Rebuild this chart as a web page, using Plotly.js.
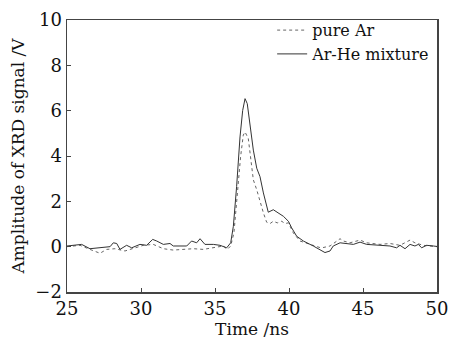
<!DOCTYPE html>
<html>
<head>
<meta charset="utf-8">
<script src="https://cdn.plot.ly/plotly-3.0.1.min.js"></script>
<style>html,body{margin:0;padding:0;background:#fff;}#chart{width:450px;height:340px;}</style>
</head>
<body>
<div id="chart"></div>
<script>
// Series names
const seriesNames = ["pure Ar", "Ar-He mixture"];

// pure Ar (dotted)
const arTime = [25.00, 25.88, 26.55, 27.23, 27.68, 28.24, 28.92, 29.48, 30.16, 30.83, 31.51, 32.18, 33.09, 33.54, 34.21, 34.89, 35.56, 35.83, 36.06, 36.28, 36.51, 36.73, 36.91, 37.03, 37.25, 37.41, 37.59, 37.82, 38.04, 38.27, 38.49, 38.72, 38.94, 39.21, 39.51, 39.73, 39.96, 40.29, 40.74, 41.42, 42.09, 42.30, 42.77, 43.45, 43.67, 44.12, 44.80, 45.25, 46.15, 46.82, 47.50, 48.18, 48.51, 49.07, 49.75, 50.00];
const arSignal = [0.00, 0.06, -0.12, -0.29, -0.12, -0.09, -0.19, -0.09, 0.06, 0.10, -0.09, -0.15, -0.09, -0.09, -0.12, -0.05, 0.03, -0.12, 0.03, 0.61, 2.37, 3.97, 4.92, 5.06, 4.77, 3.82, 2.95, 2.51, 2.00, 1.49, 1.08, 1.02, 1.12, 1.05, 1.12, 1.02, 1.05, 0.61, 0.25, 0.10, -0.04, -0.04, 0.03, 0.35, 0.25, 0.17, 0.29, 0.17, 0.10, 0.14, 0.06, 0.29, 0.17, 0.06, 0.00, 0.00];

// Ar-He mixture (solid)
const mixTime = [25.00, 25.99, 26.55, 27.23, 27.91, 28.13, 28.36, 28.58, 29.03, 29.37, 29.93, 30.38, 30.79, 31.06, 31.51, 31.96, 32.18, 33.09, 33.42, 33.76, 33.99, 34.32, 34.89, 35.34, 35.79, 36.06, 36.24, 36.46, 36.69, 36.87, 37.03, 37.18, 37.36, 37.59, 37.82, 38.04, 38.27, 38.49, 38.60, 38.94, 39.28, 39.62, 39.96, 40.18, 40.52, 40.97, 41.64, 42.09, 42.43, 42.77, 42.99, 43.45, 44.35, 44.80, 45.25, 46.15, 46.82, 47.27, 47.50, 47.84, 48.18, 48.51, 48.74, 48.96, 49.30, 49.75, 50.00];
const mixSignal = [0.03, 0.10, -0.09, -0.05, 0.00, 0.17, 0.14, -0.12, 0.06, -0.05, 0.10, 0.06, 0.32, 0.25, 0.10, 0.14, 0.03, 0.03, 0.25, 0.17, 0.35, 0.10, 0.10, 0.06, -0.05, 0.17, 0.90, 2.65, 4.84, 6.01, 6.53, 6.31, 5.43, 4.26, 3.46, 3.09, 2.37, 1.71, 1.52, 1.63, 1.49, 1.34, 1.12, 0.83, 0.46, 0.25, 0.03, -0.12, -0.26, -0.19, 0.03, 0.17, 0.10, 0.20, 0.10, 0.06, 0.03, -0.05, 0.06, -0.09, 0.10, 0.03, 0.10, -0.05, 0.06, 0.03, 0.01];

// Axis ticks
const xTicks = [25, 30, 35, 40, 45, 50];
const yTicks = [-2, 0, 2, 4, 6, 8, 10];
const yTickText = ["\u22122", "0", "2", "4", "6", "8", "10"];

const font = "DejaVu Serif, serif";
const ink = "#111";

const traces = [
  {x: arTime, y: arSignal, name: seriesNames[0], mode: "lines", type: "scatter",
   line: {color: "#666", width: 1, dash: "dot"}},
  {x: mixTime, y: mixSignal, name: seriesNames[1], mode: "lines", type: "scatter",
   line: {color: "#333", width: 1}}
];

const layout = {
  width: 450, height: 340,
  margin: {l: 67, r: 13, t: 20, b: 48},
  paper_bgcolor: "#fff", plot_bgcolor: "#fff",
  font: {family: font, color: ink, size: 17},
  showlegend: true,
  legend: {x: 0.995, y: 1.025, xanchor: "right", yanchor: "top",
           bgcolor: "rgba(0,0,0,0)", font: {family: font, size: 16, color: ink},
           tracegroupgap: 0, itemwidth: 30},
  xaxis: {range: [25, 50], tickvals: xTicks, ticktext: xTicks.map(String),
          ticks: "inside", ticklen: 4, tickcolor: "#444", showgrid: false, zeroline: false,
          showline: true, linecolor: "#444", linewidth: 1.5, mirror: true,
          tickfont: {family: font, size: 18, color: ink},
          title: {text: "Time /ns", font: {family: font, size: 17, color: ink}, standoff: 2}},
  yaxis: {range: [-2, 10], tickvals: yTicks, ticktext: yTickText,
          ticks: "inside", ticklen: 4, tickcolor: "#444", showgrid: false, zeroline: false,
          showline: true, linecolor: "#444", linewidth: 1.5, mirror: true,
          tickfont: {family: font, size: 18, color: ink},
          title: {text: "Amplitude of XRD signal /V", font: {family: font, size: 17, color: ink}, standoff: 6}}
};

Plotly.newPlot("chart", traces, layout, {displayModeBar: false, staticPlot: true});
</script>
</body>
</html>
